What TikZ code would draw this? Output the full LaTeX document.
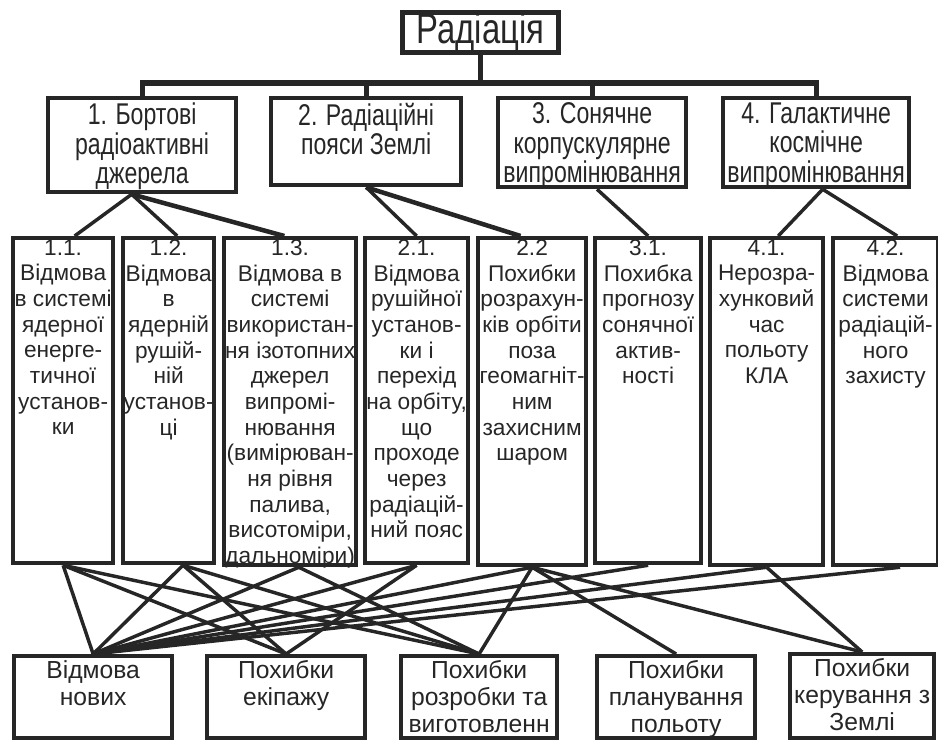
\documentclass[tikz,border=0pt]{standalone}
\usepackage{fontspec}
\setmainfont{Liberation Sans}
\newfontfamily\narrowfont[FakeStretch=0.77]{Liberation Sans}
\usepackage{tikz}
\usetikzlibrary{calc}
\colorlet{ink}{black!85}

\begin{document}
\begin{tikzpicture}[x=0.75pt, y=-0.75pt,
  box/.style 2 args={draw=ink, line width=3.2pt, anchor=north west, inner sep=0pt,
    minimum width=#1*0.75pt, minimum height=#2*0.75pt},
  lone/.style={anchor=north, align=center, inner ysep=5pt, inner xsep=0pt, text=ink,
    font=\narrowfont\fontsize{22.5}{22}\selectfont},
  ltwo/.style={anchor=north, align=center, inner ysep=2.5pt, inner xsep=0pt, text=ink,
    font=\fontsize{17}{19.25}\selectfont},
  lthree/.style={anchor=north, align=center, inner ysep=4.5pt, inner xsep=0pt, text=ink,
    font=\fontsize{18.5}{20.3}\selectfont},
  link/.style={draw=ink, line width=2.6pt},
  bus/.style={draw=ink, line width=3.8pt}]

\useasboundingbox (0,0) rectangle (938,749);

% root
\node[box={156}{40}, line width=3.8pt, text=ink,
  font=\narrowfont\fontsize{32}{32}\selectfont] (rad) at (400,10) {Радіація};

% sources
\node[box={188}{94}, label={[lone]north:{1. Бортові\\радіоактивні\\джерела}}] (s1) at (46,96) {};
\node[box={190}{87}, label={[lone]north:{2. Радіаційні\\пояси Землі}}] (s2) at (269,96) {};
\node[box={188}{89}, label={[lone]north:{3. Сонячне\\корпускулярне\\випромінювання}}] (s3) at (496,96) {};
\node[box={186}{89}, label={[lone]north:{4. Галактичне\\космічне\\випромінювання}}] (s4) at (721,96) {};

\coordinate (bus) at (0,83);
\draw[bus] (rad.south) -- (rad.south |- bus);
\draw[bus] (s1.north) -- (s1.north |- bus) -- (s4.north |- bus) -- (s4.north);
\draw[bus] (s2.north) -- (s2.north |- bus);
\draw[bus] (s3.north) -- (s3.north |- bus);

% failures and errors
\node[box={100}{325}, label={[ltwo]north:{1.1.\\Відмова\\в системі\\ядерної\\енерге-\\тичної\\установ-\\ки}}] (m11) at (11,236) {};
\node[box={91}{325}, label={[ltwo]north:{1.2.\\Відмова\\в\\ядерній\\рушій-\\ній\\установ-\\ці}}] (m12) at (121,236) {};
\node[box={132}{327}, label={[ltwo]north:{1.3.\\Відмова в\\системі\\використан-\\ня ізотопних\\джерел\\випромі-\\нювання\\(вимірюван-\\ня рівня\\палива,\\висотоміри,\\дальноміри)}}] (m13) at (222,236) {};
\node[box={103}{325}, label={[ltwo]north:{2.1.\\Відмова\\рушійної\\установ-\\ки і\\перехід\\на орбіту,\\що\\проходе\\через\\радіацій-\\ний пояс}}] (m21) at (363,236) {};
\node[box={108}{327}, label={[ltwo]north:{2.2\\Похибки\\розрахун-\\ків орбіти\\поза\\геомагніт-\\ним\\захисним\\шаром}}] (m22) at (476,236) {};
\node[box={106}{325}, label={[ltwo]north:{3.1.\\Похибка\\прогнозу\\сонячної\\актив-\\ності}}] (m31) at (593,236) {};
\node[box={113}{327}, label={[ltwo]north:{4.1.\\Нерозра-\\хунковий\\час\\польоту\\КЛА}}] (m41) at (708,236) {};
\node[box={105}{327}, label={[ltwo]north:{4.2.\\Відмова\\системи\\радіацій-\\ного\\захисту}}] (m42) at (831,236) {};

% angles pick the points where the lines meet the boxes
\foreach \a/\b in {s1.-102/m11.86, s1.-102/m12.87, s2.south/m21.north, s3.-84/m31.north,
    s4.-82/m41.86, s4.-82/m42.86}
  \draw[link] (\a) -- (\b);
\draw[link, line width=3.4pt] (s1.-102) -- (m13.92);
\draw[link, line width=3.4pt] (s2.south) -- (m22.94);

% consequences
\node[box={158}{82}, label={[lthree]north:{Відмова\\нових}}] (b1) at (12,654) {};
\node[box={158}{82}, label={[lthree]north:{Похибки\\екіпажу}}] (b2) at (205,654) {};
\node[box={156}{82}, label={[lthree]north:{Похибки\\розробки та\\виготовленн}}] (b3) at (399,654) {};
\node[box={158}{82}, label={[lthree]north:{Похибки\\планування\\польоту}}] (b4) at (595,654) {};
\node[box={144}{84}, label={[lthree]north:{Похибки\\керування з\\Землі}}] (b5) at (788,652) {};

\foreach \a/\b in {m11.south/b1, m11.south/b2, m11.south/b3, m12.-85/b1, m12.-85/b2, m12.-85/b3,
    m13.-87/b1, m13.-87/b3, m21.south/b1, m21.south/b2, m22.south/b1, m22.south/b3,
    m22.south/b4, m22.south/b5, m31.south/b1, m41.south/b1, m41.south/b5, m42.-85/b1}
  \draw[link] (\a) -- (\b.north);

\end{tikzpicture}
\end{document}
